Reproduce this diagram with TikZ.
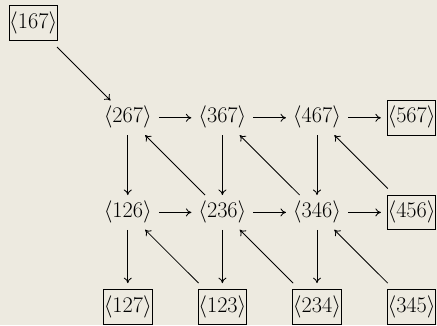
\RequirePackage{fix-cm}
\documentclass[tikz,border=0pt]{standalone}
\usetikzlibrary{arrows.meta}
\definecolor{bgc}{RGB}{237,234,224}
\begin{document}
\begin{tikzpicture}[x=1pt,y=1pt,
  every node/.style={font=\fontsize{22.3}{26}\selectfont, inner xsep=0pt, inner ysep=0pt,
     outer sep=7pt, text height=15.5pt, text depth=5.2pt},
  boxed/.style={draw, line width=0.9pt, inner xsep=0.2pt, inner ysep=7pt, outer sep=6.5pt},
  arr/.style={line width=0.85pt, -{Computer Modern Rightarrow[length=5.5pt,width=8pt]}}]
\fill[bgc] (0,0) rectangle (437,325);
\useasboundingbox (0,0) rectangle (437,325);
\def\gx#1{33.2+94.6*#1}
\def\gy#1{325-23.2-94.6*#1}
\node[boxed] (n167) at ({\gx{0}},{\gy{0}}) {$\langle 167\rangle$};
\node (n267) at ({\gx{1}},{\gy{1}}) {$\langle 267\rangle$};
\node (n367) at ({\gx{2}},{\gy{1}}) {$\langle 367\rangle$};
\node (n467) at ({\gx{3}},{\gy{1}}) {$\langle 467\rangle$};
\node[boxed] (n567) at ({\gx{4}},{\gy{1}}) {$\langle 567\rangle$};
\node (n126) at ({\gx{1}},{\gy{2}}) {$\langle 126\rangle$};
\node (n236) at ({\gx{2}},{\gy{2}}) {$\langle 236\rangle$};
\node (n346) at ({\gx{3}},{\gy{2}}) {$\langle 346\rangle$};
\node[boxed] (n456) at ({\gx{4}},{\gy{2}}) {$\langle 456\rangle$};
\node[boxed] (n127) at ({\gx{1}},{\gy{3}}) {$\langle 127\rangle$};
\node[boxed] (n123) at ({\gx{2}},{\gy{3}}) {$\langle 123\rangle$};
\node[boxed] (n234) at ({\gx{3}},{\gy{3}}) {$\langle 234\rangle$};
\node[boxed] (n345) at ({\gx{4}},{\gy{3}}) {$\langle 345\rangle$};
\draw[arr] (n167) -- (n267);
\draw[arr] (n267) -- (n367);
\draw[arr] (n367) -- (n467);
\draw[arr] (n467) -- (n567);
\draw[arr] (n126) -- (n236);
\draw[arr] (n236) -- (n346);
\draw[arr] (n346) -- (n456);
\draw[arr] (n267) -- (n126);
\draw[arr] (n367) -- (n236);
\draw[arr] (n467) -- (n346);
\draw[arr] (n126) -- (n127);
\draw[arr] (n236) -- (n123);
\draw[arr] (n346) -- (n234);
\draw[arr] (n236) -- (n267);
\draw[arr] (n346) -- (n367);
\draw[arr] (n456) -- (n467);
\draw[arr] (n123) -- (n126);
\draw[arr] (n234) -- (n236);
\draw[arr] (n345) -- (n346);
\end{tikzpicture}
\end{document}
